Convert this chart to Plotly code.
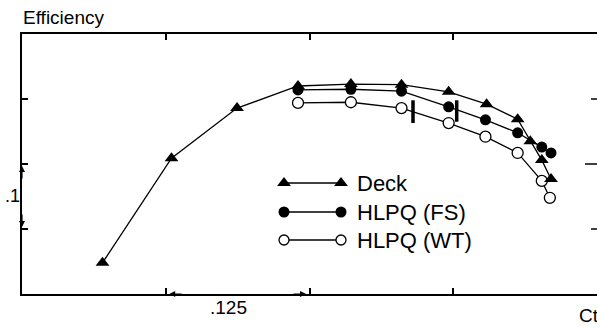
import plotly.graph_objects as go

# Thrust coefficient (Ct) and efficiency for the three propeller datasets
deck_ct = [0.070, 0.130, 0.187, 0.240, 0.286, 0.330, 0.371, 0.404, 0.431, 0.442, 0.452, 0.460]
deck_eff = [0.448, 0.609, 0.686, 0.720, 0.723, 0.722, 0.711, 0.692, 0.669, 0.635, 0.606, 0.577]

fs_ct = [0.240, 0.286, 0.330, 0.371, 0.403, 0.431, 0.452, 0.460]
fs_eff = [0.714, 0.715, 0.712, 0.688, 0.668, 0.648, 0.626, 0.617]

wt_ct = [0.240, 0.286, 0.330, 0.371, 0.403, 0.431, 0.452, 0.459]
wt_eff = [0.694, 0.695, 0.686, 0.663, 0.642, 0.617, 0.574, 0.548]

# Short vertical range bars marked on the curves
bar_ct = [0.340, 0.378]
bar_lo = [0.663, 0.665]
bar_hi = [0.698, 0.698]

# Axis scale: one tick step per dimension label
ct_step = 0.125
eff_step = 0.1
ct_range = [0.0, 0.5]
eff_range = [0.4, 0.8]

legend_names = ["Deck", "HLPQ (FS)", "HLPQ (WT)"]

W, H = 597, 327
L, R, T, B = 22, 0, 34, 33
PW, PH = W - L - R, H - T - B

FONT = "Liberation Sans, Arial, Helvetica, sans-serif"


def px(x):
    return (x - L) / PW


def py(y):
    return (H - B - y) / PH


fig = go.Figure()

line = dict(color="black", width=1.3)
fig.add_trace(go.Scatter(x=wt_ct, y=wt_eff, mode="lines+markers", line=line,
                         marker=dict(symbol="circle", size=11, color="white",
                                     line=dict(color="black", width=1.3)),
                         showlegend=False))
fig.add_trace(go.Scatter(x=deck_ct, y=deck_eff, mode="lines+markers", line=line,
                         marker=dict(symbol="triangle-up", size=12, color="black"),
                         showlegend=False))
fig.add_trace(go.Scatter(x=fs_ct, y=fs_eff, mode="lines+markers", line=line,
                         marker=dict(symbol="circle", size=11, color="black"),
                         showlegend=False))

for c, lo, hi in zip(bar_ct, bar_lo, bar_hi):
    fig.add_trace(go.Scatter(x=[c, c], y=[lo, hi], mode="lines",
                             line=dict(color="black", width=3.5), showlegend=False))

# Hand-drawn key: an overlay axis measured in pixels of the plot area
key_x0, key_x1 = 284, 341
key_rows = [183, 212, 240]
key_markers = [
    dict(symbol="triangle-up", size=12, color="black"),
    dict(symbol="circle", size=11, color="black"),
    dict(symbol="circle", size=10, color="white", line=dict(color="black", width=1.3)),
]
for yrow, mk, name in zip(key_rows, key_markers, legend_names):
    fig.add_trace(go.Scatter(x=[key_x0, key_x1], y=[yrow, yrow], mode="lines+markers",
                             line=dict(color="black", width=1.3), marker=mk,
                             xaxis="x2", yaxis="y2", showlegend=False, cliponaxis=False))
    fig.add_annotation(x=px(355), y=py(yrow), xref="paper", yref="paper",
                       text=name, showarrow=False, xanchor="left", yanchor="middle",
                       font=dict(family=FONT, size=22, color="black"))

axis_common = dict(showgrid=False, zeroline=False, showticklabels=False,
                   showline=True, linecolor="black", linewidth=2,
                   ticks="inside", ticklen=6, tickwidth=1.5, tickcolor="black")

fig.update_layout(
    width=W, height=H,
    margin=dict(l=L, r=R, t=T, b=B, pad=0),
    paper_bgcolor="white", plot_bgcolor="white",
    xaxis=dict(range=ct_range, tickvals=[ct_step, 2 * ct_step, 3 * ct_step],
               mirror="ticks", **axis_common),
    yaxis=dict(range=eff_range,
               tickvals=[eff_range[0] + eff_step, eff_range[0] + 2 * eff_step,
                         eff_range[0] + 3 * eff_step],
               mirror=False, **axis_common),
    xaxis2=dict(range=[L, W - R], overlaying="x", visible=False, fixedrange=True),
    yaxis2=dict(range=[H - B, T], overlaying="y", visible=False, fixedrange=True),
    showlegend=False,
)

# Ticks along the right edge
for yv, ln in zip([0.7, 0.6, 0.5], [6, 12, 6]):
    fig.add_shape(type="line", xref="paper", yref="y", x0=1 - ln / PW, x1=1,
                  y0=yv, y1=yv, line=dict(color="black", width=1.5))

# Text labels
fig.add_annotation(x=px(L - 1), y=py(17), xref="paper", yref="paper", text="Efficiency",
                   showarrow=False, xanchor="left", yanchor="middle",
                   font=dict(family=FONT, size=19, color="black"))
fig.add_annotation(x=px(3), y=py(196), xref="paper", yref="paper", text=".1",
                   showarrow=False, xanchor="left", yanchor="middle",
                   font=dict(family=FONT, size=18, color="black"))
fig.add_annotation(x=px(228), y=py(307), xref="paper", yref="paper", text=".125",
                   showarrow=False, xanchor="center", yanchor="middle",
                   font=dict(family=FONT, size=19, color="black"))
fig.add_annotation(x=px(577), y=py(315), xref="paper", yref="paper", text="Ct",
                   showarrow=False, xanchor="left", yanchor="middle",
                   font=dict(family=FONT, size=19, color="black"))

# Dimension arrows marking one tick step on each axis
arrow = dict(showarrow=True, arrowhead=2, arrowsize=1, arrowwidth=1.2,
             arrowcolor="black", text="", xref="x", yref="y")
fig.add_annotation(x=0, y=eff_range[0] + 2 * eff_step - 0.003, ax=0, ay=14, **arrow)
fig.add_annotation(x=0, y=eff_range[0] + eff_step + 0.003, ax=0, ay=-14, **arrow)
fig.add_annotation(x=ct_step + 0.003, y=eff_range[0], ax=14, ay=0, **arrow)
fig.add_annotation(x=2 * ct_step - 0.003, y=eff_range[0], ax=-14, ay=0, **arrow)

fig.write_html("out.html")
